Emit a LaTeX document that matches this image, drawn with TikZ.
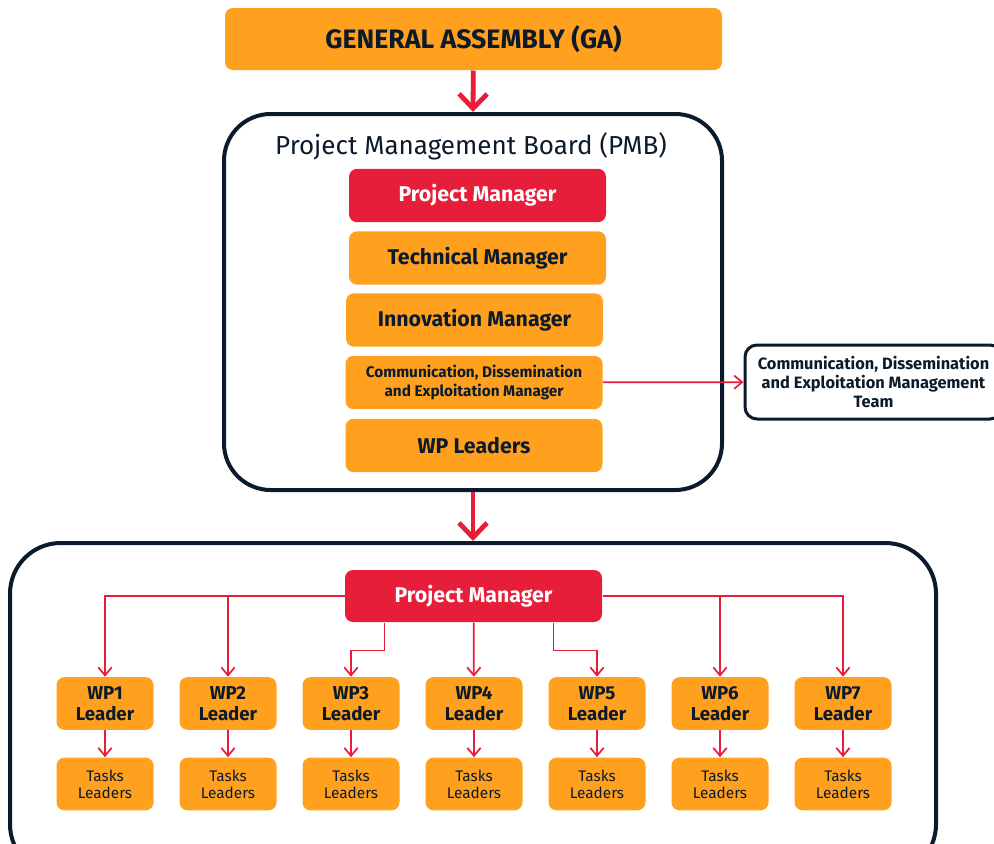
\documentclass[tikz,border=0pt]{standalone}
\usepackage{fontspec}
\setmainfont{Fira Sans}
\usetikzlibrary{arrows.meta}

\definecolor{gaorange}{RGB}{255,160,30}
\definecolor{pmred}{RGB}{230,30,58}
\definecolor{inkblue}{RGB}{12,27,43}

\tikzset{every picture/.style={line width=0.75pt}}
\tikzset{
  rolebox/.style={rounded corners=6pt, fill=gaorange, text=inkblue, align=center,
    inner sep=0pt, minimum width=192.75pt, minimum height=40pt},
  pmbox/.style={rolebox, fill=pmred, text=white},
  wpbox/.style={rolebox, minimum width=72.75pt, minimum height=39.5pt},
  frame/.style={draw=inkblue, line width=3pt, rounded corners=35pt, inner sep=0pt},
  bigarrow/.style={draw=pmred, line width=3.6pt, -{Straight Barb[length=11pt,width=21pt]}},
  thinarrow/.style={draw=pmred, line width=1.3pt, -{Straight Barb[length=6pt,width=10pt]}}
}

\begin{document}
\begin{tikzpicture}[x=0.75pt,y=0.75pt,yscale=-1,xscale=1]
\useasboundingbox (0,0) rectangle (994,843);

%General assembly
\node[rolebox, minimum width=372.75pt, minimum height=46.5pt, font=\fontsize{20}{23}\selectfont\bfseries] (ga) at (473.5,39) {GENERAL ASSEMBLY (GA)};

%Project management board
\node[frame, minimum width=373.5pt, minimum height=282pt] (pmb) at (473,302) {};
\node[text=inkblue, font=\fontsize{19.5}{23}\selectfont] (pmbtitle) at (471,146) {Project Management Board (PMB)};
\node[pmbox, font=\fontsize{16}{19}\selectfont\bfseries] (pm) at (477.5,195.5) {Project Manager};
\node[rolebox, font=\fontsize{16}{19}\selectfont\bfseries] (tm) at (477.5,258) {Technical Manager};
\node[rolebox, font=\fontsize{16}{19}\selectfont\bfseries] (im) at (474.5,320) {Innovation Manager};
\node[rolebox, font=\fontsize{11.5}{14}\selectfont\bfseries] (cdem) at (474,382.5) {Communication, Dissemination\\and Exploitation Manager};
\node[rolebox, font=\fontsize{16}{19}\selectfont\bfseries] (wpl) at (474,445.5) {WP Leaders};

%CDE team
\node[frame, line width=2.25pt, rounded corners=9pt, minimum width=192.75pt, minimum height=55.5pt, text=inkblue, align=center, font=\fontsize{12.3}{14}\selectfont\bfseries] (team) at (873.5,382) {Communication, Dissemination\\and Exploitation Management\\Team};

%Work packages
\node[frame, rounded corners=38pt, minimum width=694.5pt, minimum height=249pt] (wpf) at (473,709) {};
\node[pmbox, minimum height=39pt, font=\fontsize{16}{19}\selectfont\bfseries] (pmw) at (473.5,596) {Project Manager};
\foreach \i in {1,...,7}{
  \node[wpbox, font=\fontsize{14}{15.5}\selectfont\bfseries] (wp\i) at ({105+123*(\i-1)},703.5) {WP\i\\Leader};
  \node[wpbox, font=\fontsize{11.5}{13}\selectfont] (tl\i) at ({105+123*(\i-1)},784) {Tasks\\Leaders};
  \draw[thinarrow] (wp\i) -- (tl\i);
}

%Connectors
\draw[bigarrow] (ga) -- (pmb.north);
\draw[bigarrow] (pmb) -- (wpf.north);
\draw[thinarrow] (cdem) -- (team);
\draw[thinarrow] (pmw.west) -| (wp1);
\draw[thinarrow] (pmw.west) -| (wp2);
\draw[thinarrow] ([xshift=30pt]pmw.south west) -- ++(0,28) -| (wp3);
\draw[thinarrow] (pmw) -- (wp4);
\draw[thinarrow] ([xshift=-36.75pt]pmw.south east) -- ++(0,28) -| (wp5);
\draw[thinarrow] (pmw.east) -| (wp6);
\draw[thinarrow] (pmw.east) -| (wp7);

\end{tikzpicture}
\end{document}
